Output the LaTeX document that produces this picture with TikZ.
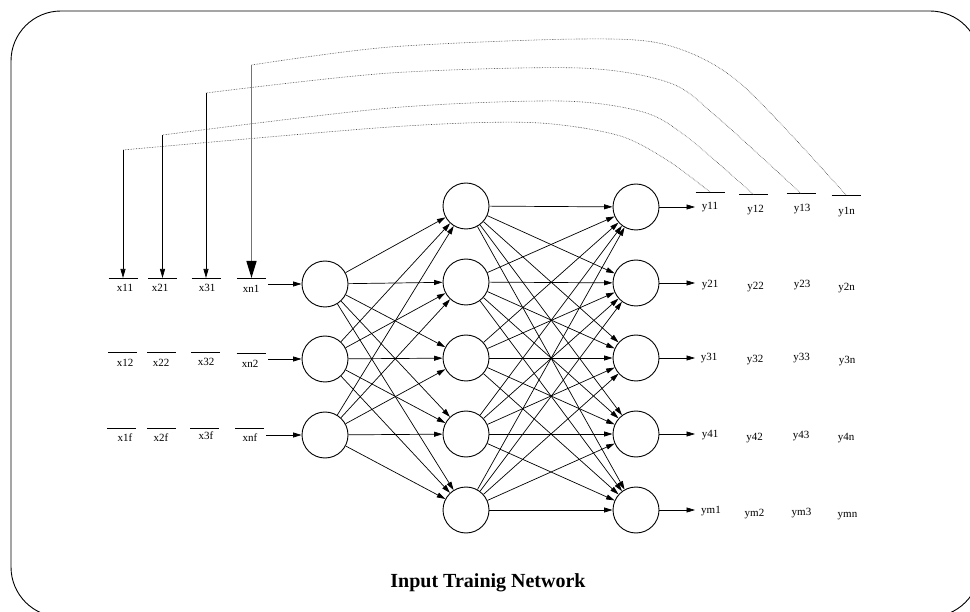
\documentclass[tikz,border=0pt]{standalone}
\usepackage{fontspec}
\setmainfont{Liberation Serif}
\usetikzlibrary{arrows.meta}

\begin{document}
\begin{tikzpicture}[x=1pt,y=-1pt,
  neuron/.style={circle,draw,line width=0.9pt,minimum size=46pt,inner sep=0pt},
  edge/.style={-{Triangle[length=8.5pt,width=5pt]},line width=0.7pt},
  lbl/.style={font=\fontsize{11}{13}\selectfont,anchor=base,inner sep=0pt},
  feed/.style={densely dotted,line width=0.6pt,black!75},
  drop/.style={-{Triangle[length=9pt,width=5pt]},line width=0.7pt},
  dropbig/.style={-{Triangle[length=17pt,width=10pt,color=black]},line width=1.5pt,black!55},
  bar/.style={line width=0.9pt},
  frame/.style={line width=0.9pt,rounded corners=50pt}]

\useasboundingbox (0,0) rectangle (970,612);

% outer frame
\draw[frame] (11,11) rectangle (980,617);

% neurons
\foreach \n/\y in {1/284,2/359,3/435}
  \node[neuron] (i\n) at (325,\y) {};
\foreach \n/\y in {1/206,2/282,3/358,4/434,5/510}
  \node[neuron] (h\n) at (466,\y) {};
\foreach \n/\y in {1/207,2/283,3/358,4/434,5/510}
  \node[neuron] (o\n) at (636,\y) {};

% fully connected layers
\foreach \a in {1,2,3}
  \foreach \b in {1,...,5}
    \draw[edge] (i\a) -- (h\b);
\foreach \a in {1,...,5}
  \foreach \b in {1,...,5}
    \draw[edge] (h\a) -- (o\b);

% network inputs and outputs
\coordinate (in1) at (268,284);
\coordinate (in2) at (268,359);
\coordinate (in3) at (266,435);
\foreach \n in {1,2,3}
  \draw[edge] (in\n) -- (i\n);
\foreach \n/\y in {1/207,2/283,3/358,4/434,5/510} {
  \coordinate (out\n) at (695,\y);
  \draw[edge] (o\n) -- (out\n);
}

% input bars
\foreach \nm/\x/\y in {x11/123/278, x21/162.5/278, x31/206/278, xn1/251.5/278,
                       x12/122.5/352.5, x22/161.5/352.5, x32/205.5/352.5, xn2/251/353,
                       x1f/121.5/428.5, x2f/161.5/428.5, x3f/204.5/428.5, xnf/249.5/428.5} {
  \coordinate (b\nm) at (\x,\y);
  \draw[bar] ([xshift=-14.5pt]b\nm) -- ([xshift=14.5pt]b\nm);
}

% output bars of the first row
\foreach \nm/\x/\y in {y11/710/192, y12/753.5/194.5, y13/801/193.5, y1n/846/195} {
  \coordinate (b\nm) at (\x,\y);
  \draw[bar] ([xshift=-14.5pt]b\nm) -- ([xshift=14.5pt]b\nm);
}

% labels
\foreach \t/\x/\y in {x11/125/292, x21/160/292, x31/207/292, xn1/251/293,
                      x12/125/367, x22/161/367, x32/206/365.5, xn2/250/368,
                      x1f/125/441.5, x2f/161/441.5, x3f/206/439, xnf/250/442,
                      y11/710/210, y12/755.5/213, y13/802/212, y1n/846.5/215,
                      y21/710/288, y22/755.5/290, y23/802/287.5, y2n/846.5/291,
                      y31/709/361, y32/755/363, y33/801.5/361, y3n/847/364,
                      y41/710/437.5, y42/754.5/440, y43/801/438.5, y4n/846/441,
                      ym1/711/513.5, ym2/754.5/516, ym3/801.5/515, ymn/847.5/517}
  \node[lbl] (l\t) at (\x,\y) {\t};

% feedback corners above the input bars
\coordinate (cx11) at (123,150);
\coordinate (cx21) at (162.5,135);
\coordinate (cx31) at (206,93);
\coordinate (cxn1) at (251.5,65);

% feedback paths from the outputs back to the inputs
\draw[feed] plot[smooth] coordinates {(by11) (667,160) (617,135) (530,122.5) (390,127) (cx11)};
\draw[feed] plot[smooth] coordinates {(by12) (687,137) (643,112) (560,101) (390,108) (cx21)};
\draw[feed] plot[smooth] coordinates {(by13) (717,117) (670,83) (580,68) (390,73) (cx31)};
\draw[feed] plot[smooth] coordinates {(by1n) (740,83) (667,45) (580,39) (390,47) (cxn1)};

\draw[drop] (cx11) -- (bx11);
\draw[drop] (cx21) -- (bx21);
\draw[drop] (cx31) -- (bx31);
\draw[dropbig] (cxn1) -- (bxn1);

% caption
\node[font=\bfseries\fontsize{20}{24}\selectfont,anchor=base,inner sep=0pt] (title) at (488,587) {Input Trainig Network};
\end{tikzpicture}
\end{document}
